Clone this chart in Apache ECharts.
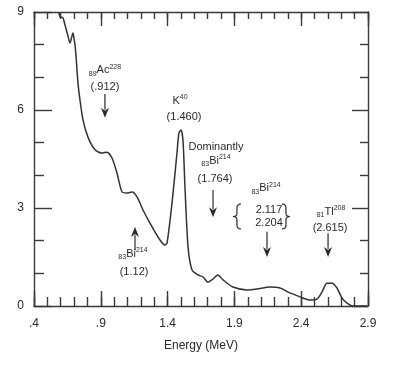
<!DOCTYPE html>
<html><head><meta charset="utf-8">
<script src="https://cdn.jsdelivr.net/npm/echarts@6/dist/echarts.min.js"></script>
<style>html,body{margin:0;padding:0;background:#fff}#c{width:405px;height:368px}</style>
</head><body><div id="c"></div>
<script>
// Spectrum data (Energy MeV, counts in arbitrary units)
const energy = [0.587,0.595,0.617,0.632,0.654,0.669,0.692,0.699,0.707,0.714,0.729,0.744,0.767,0.804,0.857,0.909,0.946,0.984,1.021,1.059,1.096,1.134,1.171,1.216,1.268,1.343,1.381,1.396,1.433,1.470,1.485,1.500,1.515,1.530,1.553,1.583,1.628,1.665,1.702,1.732,1.777,1.815,1.890,1.994,2.069,2.166,2.241,2.316,2.391,2.466,2.518,2.556,2.593,2.631,2.668,2.706,2.743,2.788,2.893];
const counts = [8.97,8.85,8.82,8.60,8.27,8.05,8.36,8.20,7.99,7.68,6.83,6.31,5.69,5.17,4.78,4.68,4.71,4.53,4.07,3.49,3.46,3.49,3.34,2.94,2.54,2.02,1.87,1.93,3.15,4.68,5.30,5.39,5.08,3.64,1.81,1.10,0.95,0.89,0.73,0.80,0.95,0.80,0.58,0.49,0.52,0.58,0.55,0.40,0.28,0.18,0.21,0.43,0.70,0.70,0.55,0.24,0.09,0.0,0.0];
const xMajorTicks = [0.4,0.9,1.4,1.9,2.4,2.9];
const xTickLabels = ['.4','.9','1.4','1.9','2.4','2.9'];
const yTickValues = [0,3,6,9];
const yTickLabels = ['0','3','6','9'];

// Annotations placed in data coordinates
const annoTexts = [
  {t:'{s|89}{m|Ac}{p|228}', e:0.931, v:7.22},
  {t:'{m|(.912)}', e:0.931, v:6.70},
  {t:'{m|K}{p|40}', e:1.493, v:6.28},
  {t:'{m|(1.460)}', e:1.523, v:5.79},
  {t:'{m|Dominantly}', e:1.762, v:4.87},
  {t:'{s|83}{m|Bi}{p|214}', e:1.762, v:4.44},
  {t:'{m|(1.764)}', e:1.755, v:3.89},
  {t:'{s|83}{m|Bi}{p|214}', e:2.137, v:3.61},
  {t:'{m|2.117}', e:2.159, v:2.94},
  {t:'{m|2.204}', e:2.159, v:2.54},
  {t:'{s|81}{m|Tl}{p|208}', e:2.623, v:2.88},
  {t:'{m|(2.615)}', e:2.616, v:2.39},
  {t:'{s|83}{m|Bi}{p|214}', e:1.141, v:1.59},
  {t:'{m|(1.12)}', e:1.149, v:1.04}
];
const annoArrows = [
  [0.931, 6.49, 5.76],
  [1.740, 3.55, 2.72],
  [2.144, 2.27, 1.50],
  [2.601, 2.23, 1.50],
  [1.156, 1.71, 2.42]
];
const braces = [ // [energy, vTop, vBottom, dir]
  [1.919, 3.12, 2.36, -1],
  [2.286, 3.12, 2.36, 1]
];

const xMinorTicks = [];
for (let i = 4; i <= 29; i++) xMinorTicks.push(i / 10);

const FONT = '"Liberation Sans", Arial, sans-serif';
const INK = '#2a2a2a';
const AX = {color: '#3a3a3a', width: 1.4};

const chart = echarts.init(document.getElementById('c'), null, {renderer: 'canvas'});
const baseX = {type: 'value', min: 0.4, max: 2.9, splitLine: {show: false}};
const baseY = {type: 'value', min: 0, max: 9, interval: 3, splitLine: {show: false}};
chart.setOption({
  animation: false,
  backgroundColor: '#fff',
  grid: {left: 34, right: 37, top: 12, bottom: 62},
  xAxis: [
    Object.assign({}, baseX, {position: 'bottom',
      axisLine: {show: true, onZero: false, lineStyle: AX},
      axisTick: {show: true, inside: true, length: 15, customValues: xMajorTicks, lineStyle: AX},
      axisLabel: {show: true, customValues: xMajorTicks, margin: 12, color: INK, fontFamily: FONT, fontSize: 12,
        formatter: v => { const i = xMajorTicks.findIndex(t => Math.abs(t - v) < 1e-6); return i >= 0 ? xTickLabels[i] : ''; }},
      name: 'Energy (MeV)', nameLocation: 'middle', nameGap: 34,
      nameTextStyle: {color: INK, fontFamily: FONT, fontSize: 12}}),
    Object.assign({}, baseX, {position: 'bottom',
      axisLine: {show: false, onZero: false},
      axisTick: {show: true, inside: true, length: 9, customValues: xMinorTicks, lineStyle: AX},
      axisLabel: {show: false}}),
    Object.assign({}, baseX, {position: 'top',
      axisLine: {show: true, onZero: false, lineStyle: AX},
      axisTick: {show: true, inside: true, length: 14, customValues: xMajorTicks, lineStyle: AX},
      axisLabel: {show: false}}),
    Object.assign({}, baseX, {position: 'top',
      axisLine: {show: false, onZero: false},
      axisTick: {show: true, inside: true, length: 7, customValues: xMinorTicks, lineStyle: AX},
      axisLabel: {show: false}})
  ],
  yAxis: [
    Object.assign({}, baseY, {position: 'left',
      axisLine: {show: true, onZero: false, lineStyle: AX},
      axisTick: {show: true, inside: true, length: 18, lineStyle: AX},
      minorTick: {show: true, splitNumber: 3, length: 10, lineStyle: AX},
      axisLabel: {show: true, margin: 10, color: INK, fontFamily: FONT, fontSize: 12,
        formatter: v => { const i = yTickValues.indexOf(v); return i >= 0 ? yTickLabels[i] : ''; }}}),
    Object.assign({}, baseY, {position: 'right',
      axisLine: {show: true, onZero: false, lineStyle: AX},
      axisTick: {show: true, inside: true, length: 16, lineStyle: AX},
      minorTick: {show: true, splitNumber: 3, length: 8, lineStyle: AX},
      axisLabel: {show: false}})
  ],
  series: [{
    type: 'line', xAxisIndex: 0, yAxisIndex: 0,
    data: energy.map((e, i) => [e, counts[i]]),
    smooth: 0.25, showSymbol: false, symbol: 'none',
    lineStyle: {color: '#333', width: 1.5},
    clip: true
  }]
});

function px(e, v) { return chart.convertToPixel({seriesIndex: 0}, [e, v]); }
const rich = {
  m: {fontSize: 11, fontFamily: FONT, fill: INK, color: INK, lineHeight: 14, verticalAlign: 'middle'},
  s: {fontSize: 7, fontFamily: FONT, fill: INK, color: INK, lineHeight: 8, verticalAlign: 'bottom'},
  p: {fontSize: 7, fontFamily: FONT, fill: INK, color: INK, lineHeight: 8, verticalAlign: 'top'}
};
const g = [];
annoTexts.forEach(a => {
  const p = px(a.e, a.v);
  g.push({type: 'text', x: p[0], y: p[1], style: {text: a.t, rich: rich, fill: INK,
    align: 'center', verticalAlign: 'middle', textAlign: 'center', textVerticalAlign: 'middle', fontFamily: FONT, fontSize: 11}});
});
annoArrows.forEach(a => {
  const p0 = px(a[0], a[1]), p1 = px(a[0], a[2]);
  const dir = p1[1] > p0[1] ? 1 : -1;
  const hl = 10, hw = 4;
  g.push({type: 'line', shape: {x1: p0[0], y1: p0[1], x2: p1[0], y2: p1[1] - dir * hl * 0.8}, style: {stroke: INK, lineWidth: 1.2}});
  g.push({type: 'polygon', shape: {points: [[p1[0], p1[1]], [p1[0] - hw, p1[1] - dir * hl], [p1[0], p1[1] - dir * hl * 0.7], [p1[0] + hw, p1[1] - dir * hl]]}, style: {fill: INK}});
});
function quad(p0, c, p1, n) {
  const out = [];
  for (let i = 0; i <= n; i++) {
    const t = i / n, u = 1 - t;
    out.push([u*u*p0[0] + 2*u*t*c[0] + t*t*p1[0], u*u*p0[1] + 2*u*t*c[1] + t*t*p1[1]]);
  }
  return out;
}
braces.forEach(b => {
  const t = px(b[0], b[1]), bt = px(b[0], b[2]);
  const x = t[0], y0 = t[1], y1 = bt[1], m = (y0 + y1) / 2, w = 4 * b[3];
  let pts = [];
  pts = pts.concat(quad([x - w, y0], [x, y0], [x, y0 + 4], 6));
  pts = pts.concat(quad([x, m - 3], [x, m], [x + w, m], 6));
  pts = pts.concat(quad([x + w, m], [x, m], [x, m + 3], 6));
  pts = pts.concat(quad([x, y1 - 4], [x, y1], [x - w, y1], 6));
  g.push({type: 'polyline', shape: {points: pts}, style: {stroke: INK, lineWidth: 1.2, fill: null}});
});
chart.setOption({graphic: g});
</script>
</body></html>
